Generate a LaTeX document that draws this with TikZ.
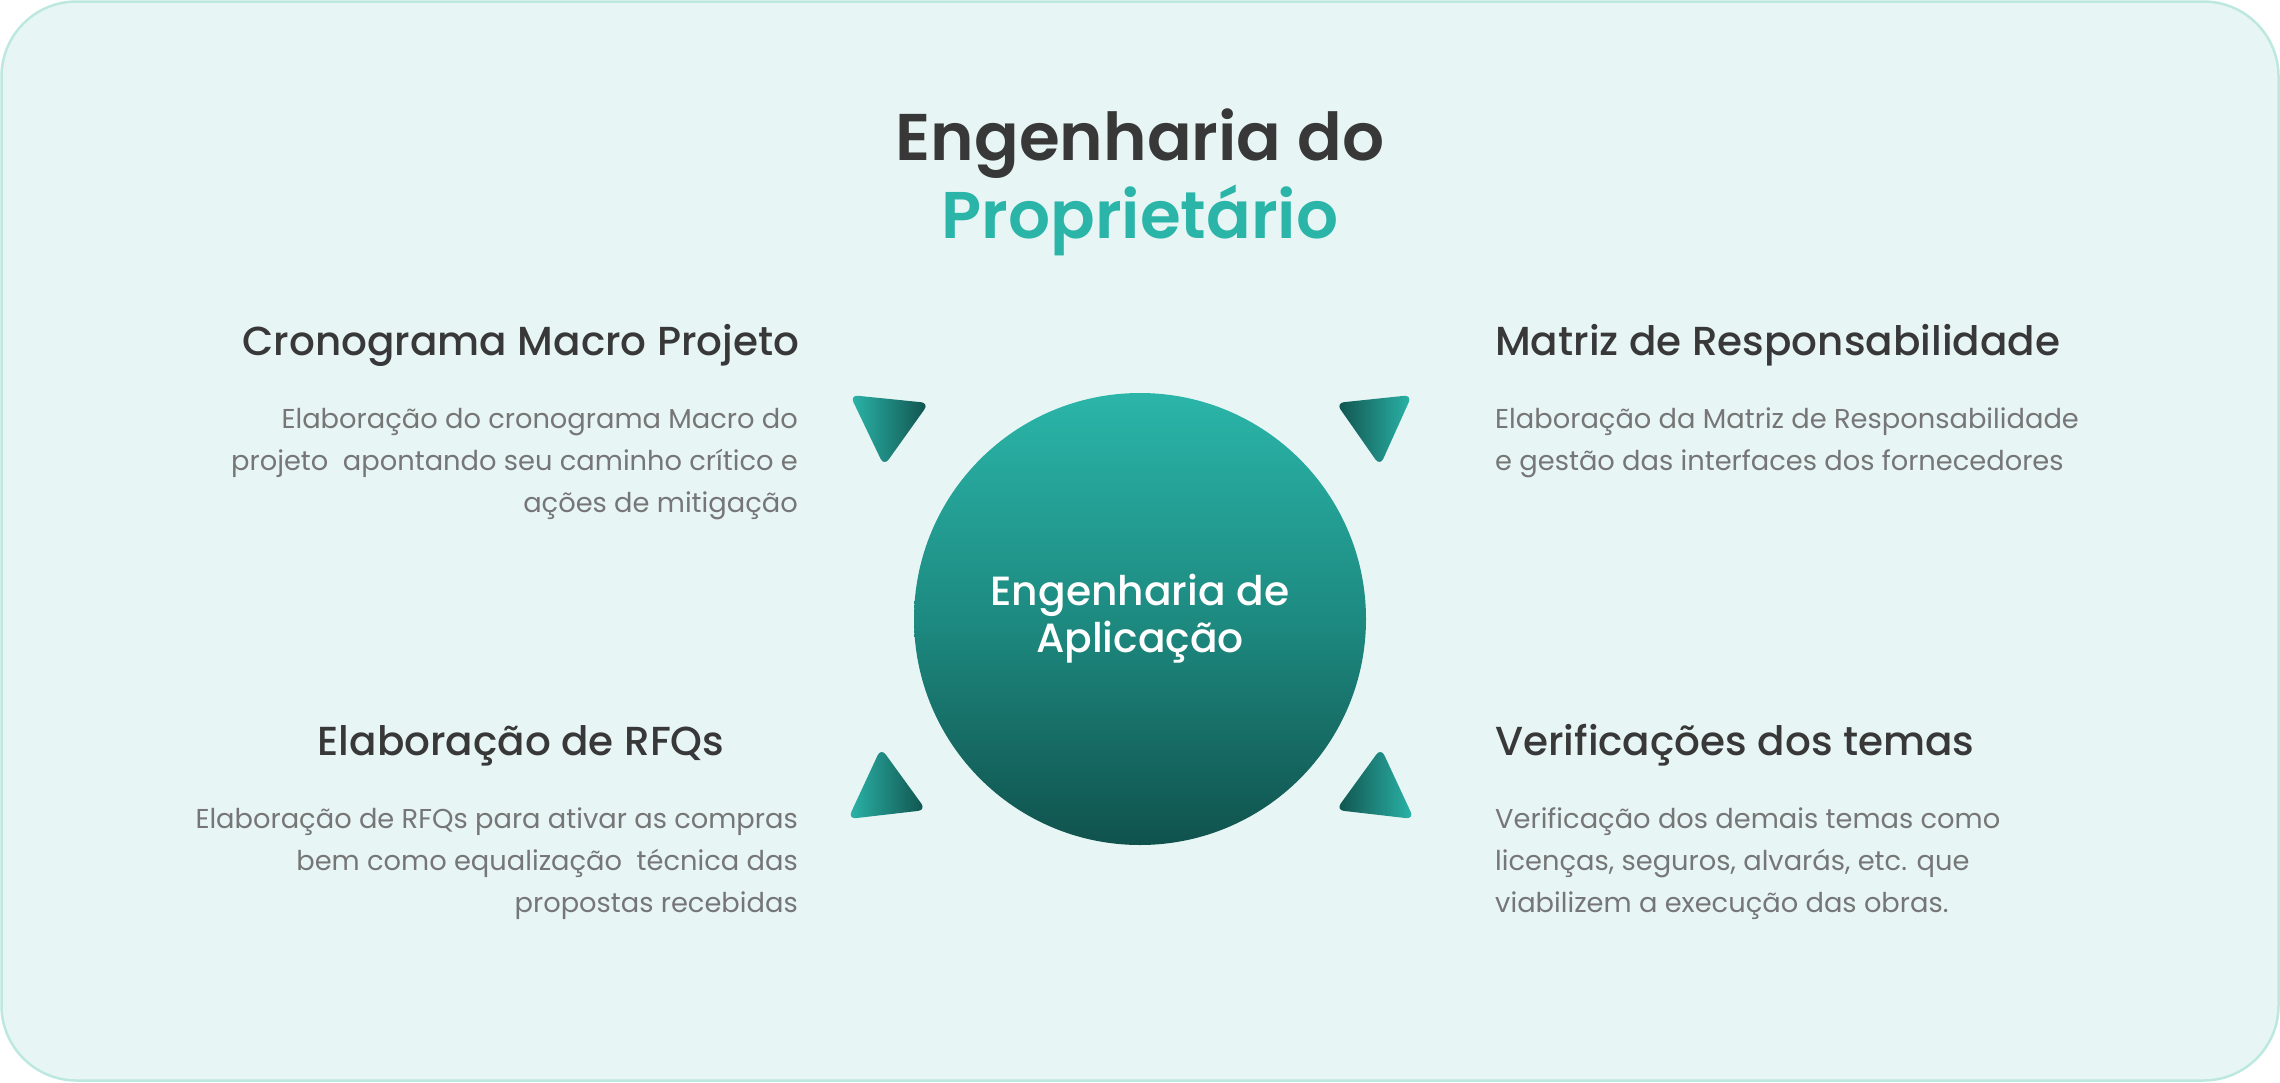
\documentclass[tikz,border=0pt]{standalone}
\usepackage{fontspec}
\setmainfont{Poppins}
\newfontfamily\medfont{Poppins Medium}
\newfontfamily\semifont{Poppins SemiBold}
\usetikzlibrary{positioning}
\definecolor{bgmint}{HTML}{E7F6F5}
\definecolor{bgline}{HTML}{BDE8E0}
\definecolor{inkdark}{HTML}{383838}
\definecolor{inkgray}{HTML}{767676}
\definecolor{tealhi}{HTML}{2BB5A9}
\definecolor{tealmid}{HTML}{1D8A80}
\definecolor{tealdeep}{HTML}{10524D}

\begin{document}
\begin{tikzpicture}[x=1pt,y=-1pt,
heading/.style={anchor=base, inner sep=0pt, text=inkdark, font=\medfont\fontsize{40.5}{48}\selectfont},
body/.style={inner sep=0pt, text=inkgray, font=\fontsize{27.3}{42}\selectfont},
marker/.style={rounded corners=8pt}
]
% background card
\useasboundingbox (0,0) rectangle (2280,1082);
\path[fill=bgmint, draw=bgline, line width=2.5pt, rounded corners=75pt] (1.5,1.5) rectangle (2278.5,1080.5);

% title
\node[anchor=base, inner sep=0pt, text=inkdark, font=\semifont\fontsize{66}{70}\selectfont] (title) at (1140,160) {Engenharia do};
\node[anchor=base, inner sep=0pt, text=tealhi, font=\semifont\fontsize{66}{70}\selectfont] (subtitle) at (1140,238) {Proprietário};

% hub
\node[circle, minimum size=452pt, inner sep=0pt, top color=tealhi, bottom color=tealdeep, middle color=tealmid,
  text=white, align=center, font=\medfont\fontsize{40.8}{47}\selectfont] (hub) at (1140,619) {Engenharia de\\Aplicação};

% corner markers
\shade[marker, left color=tealhi, right color=tealdeep] (850,395) -- (929,403) -- (884,466) -- cycle;
\shade[marker, left color=tealdeep, right color=tealhi] (1412,395) -- (1336,403) -- (1380,466) -- cycle;
\shade[marker, left color=tealhi, right color=tealdeep] (881,748) -- (926,810) -- (848,819) -- cycle;
\shade[marker, left color=tealdeep, right color=tealhi] (1381,748) -- (1414,819) -- (1336,810) -- cycle;

% top left (base = last line)
\node[heading] (cron) at (521,355) {Cronograma Macro Projeto};
\node[body, anchor=base east, align=right] (crontext) at (798,512) {Elaboração do cronograma Macro do\\projeto\ \ apontando seu caminho crítico e\\ações de mitigação\ };

% top right
\node[heading, anchor=base west] (matriz) at (1495,355) {Matriz de Responsabilidade};
\node[body, anchor=base west, align=left] (matriztext) at (1495,470) {Elaboração da Matriz de Responsabilidade\\e gestão das interfaces dos fornecedores};

% bottom left
\node[heading] (rfq) at (521,755) {Elaboração de RFQs};
\node[body, anchor=base east, align=right] (rfqtext) at (798,912) {Elaboração de RFQs para ativar as compras\\bem como equalização\ \ técnica das\\propostas recebidas};

% bottom right
\node[heading, anchor=base west] (temas) at (1495,755) {Verificações dos temas};
\node[body, anchor=base west, align=left] (temastext) at (1495,912) {Verificação dos demais temas como\\licenças, seguros, alvarás, etc. que\\viabilizem a execução das obras.};
\end{tikzpicture}
\end{document}
